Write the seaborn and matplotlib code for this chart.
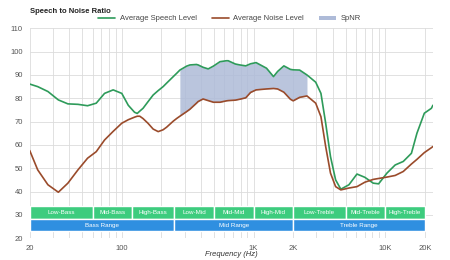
import pandas as pd
import matplotlib
matplotlib.use("Agg")
import matplotlib.pyplot as plt
import seaborn as sns
from matplotlib.lines import Line2D
from matplotlib.patches import Patch, Rectangle
from matplotlib.ticker import FixedLocator, NullFormatter

# frequencies (Hz), shared by both curves
freqs = [20, 23, 27.5, 33, 39, 46.5, 55, 64, 74, 86, 100, 112, 125, 131, 137, 145,
         158, 173, 189, 206, 219, 246, 262, 276, 311, 329, 369, 380, 414, 453, 496,
         557, 623, 642, 728, 788, 873, 950, 1046, 1255, 1418, 1524, 1700, 1904, 2000,
         2240, 2546, 2965, 3250, 3530, 3840, 4200, 4600, 5300, 6100, 7000, 8100,
         8900, 10300, 11900, 13700, 15800, 17400, 19800, 22400, 23000]

speech = [86.1, 85.0, 82.9, 79.3, 77.6, 77.4, 76.8, 77.9, 82.1, 83.6, 82.1, 77.0, 74.0,
          73.5, 74.5, 75.7, 78.5, 81.4, 83.3, 85.0, 86.5, 89.3, 90.8, 92.1, 93.8, 94.3,
          94.5, 94.3, 93.3, 92.6, 93.8, 95.7, 96.1, 96.1, 94.7, 94.3, 93.9, 94.8, 95.3,
          92.9, 89.3, 91.5, 93.9, 92.4, 92.2, 92.1, 90.0, 86.9, 82.1, 69.3, 55.0, 45.0,
          41.0, 42.9, 47.5, 46.1, 43.6, 43.3, 47.9, 51.4, 52.9, 56.4, 65.0, 73.6, 75.7,
          77.0]

noise = [57.6, 49.3, 42.9, 39.7, 43.6, 49.3, 54.3, 57.1, 62.1, 65.8, 69.3, 70.8, 71.9,
         72.3, 72.3, 71.3, 69.3, 66.8, 65.7, 66.5, 67.6, 70.2, 71.4, 72.3, 74.3, 75.3,
         77.9, 78.6, 79.7, 79.0, 78.3, 78.3, 78.9, 79.0, 79.2, 79.6, 80.2, 82.5, 83.6,
         84.0, 84.2, 84.0, 82.6, 79.6, 78.9, 80.4, 81.0, 77.9, 72.1, 59.3, 47.9, 42.1,
         40.7, 41.5, 42.1, 44.0, 45.2, 45.6, 46.2, 46.9, 48.6, 51.8, 53.8, 56.7, 58.8,
         59.3]

spnr_range = (270, 2550)

band_names = ["Low-Bass", "Mid-Bass", "High-Bass", "Low-Mid", "Mid-Mid", "High-Mid",
              "Low-Treble", "Mid-Treble", "High-Treble"]
band_edges = [20, 60, 120, 250, 500, 1000, 2000, 5000, 10000, 20000]
range_names = ["Bass Range", "Mid Range", "Treble Range"]
range_edges = [20, 250, 2000, 20000]

xtick_vals = [20, 100, 1000, 2000, 10000, 20000]
xtick_labels = ["20", "100", "1K", "2K", "10K", "20K"]

GREEN = "#2e9b5a"
BROWN = "#9a4b2b"
FILL = "#aebbd8"
BAND_GREEN = "#3dcc7e"
BAND_BLUE = "#2f8fe0"

sns.set_theme(style="white")
plt.rcParams["font.family"] = ["Liberation Sans", "DejaVu Sans"]

df = pd.DataFrame({"freq": freqs, "speech": speech, "noise": noise})

fig = plt.figure(figsize=(4.5, 2.6), dpi=100)
ax = fig.add_axes([0.066, 0.084, 0.896, 0.807])

# SpNR shaded area
mask = (df["freq"] >= spnr_range[0]) & (df["freq"] <= spnr_range[1])
ax.fill_between(df["freq"], df["noise"], df["speech"], where=mask,
                color=FILL, alpha=0.85, linewidth=0, zorder=1)

sns.lineplot(data=df, x="freq", y="speech", color=GREEN, linewidth=1.2, ax=ax, zorder=3)
sns.lineplot(data=df, x="freq", y="noise", color=BROWN, linewidth=1.2, ax=ax, zorder=3)

ax.set_xscale("log")
ax.set_xlim(20, 23000)
ax.set_ylim(20, 110)
ax.set_yticks(range(20, 111, 10))

minor = [m * 10 ** e for e in range(1, 5) for m in range(2, 10)]
minor = [v for v in minor if 20 <= v <= 20000 and v not in xtick_vals]
ax.xaxis.set_major_locator(FixedLocator(xtick_vals))
ax.set_xticklabels(xtick_labels)
ax.xaxis.set_minor_locator(FixedLocator(minor))
ax.xaxis.set_minor_formatter(NullFormatter())

ax.grid(True, which="both", color="#dcdcdc", linewidth=0.6, zorder=0)
ax.set_axisbelow(True)
ax.tick_params(axis="both", which="both", length=0, labelsize=5.5, colors="#555555", pad=5)
for s in ax.spines.values():
    s.set_visible(False)

# frequency band boxes
for i, name in enumerate(band_names):
    lo, hi = band_edges[i], band_edges[i + 1]
    ax.add_patch(Rectangle((lo, 28.3), hi - lo, 5.3, facecolor=BAND_GREEN,
                           edgecolor="white", linewidth=1.0, zorder=4))
    ax.text((lo * hi) ** 0.5, 30.9, name, ha="center", va="center",
            fontsize=4.5, color="white", zorder=5)
for i, name in enumerate(range_names):
    lo, hi = range_edges[i], range_edges[i + 1]
    ax.add_patch(Rectangle((lo, 22.9), hi - lo, 5.4, facecolor=BAND_BLUE,
                           edgecolor="white", linewidth=1.0, zorder=4))
    ax.text((lo * hi) ** 0.5, 25.6, name, ha="center", va="center",
            fontsize=4.5, color="white", zorder=5)

ax.set_ylabel("")
ax.set_xlabel("")
fig.text(0.513, 0.022, "Frequency (Hz)", fontsize=5.5, fontstyle="italic",
         color="#333333", ha="center", va="center")

fig.text(0.066, 0.955, "Speech to Noise Ratio", fontsize=5.5, fontweight="bold",
         color="#222222", va="center", ha="left")

handles = [Line2D([0], [0], color=GREEN, linewidth=1.2),
           Line2D([0], [0], color=BROWN, linewidth=1.2),
           Patch(facecolor=FILL, edgecolor="none")]
fig.legend(handles, ["Average Speech Level", "Average Noise Level", "SpNR"],
           loc="center", bbox_to_anchor=(0.51, 0.927), ncol=3, frameon=False,
           fontsize=5.5, handlelength=2.2, handleheight=0.5, columnspacing=2.0,
           handletextpad=0.6, labelcolor="#444444")

fig.savefig("out.png", dpi=100)
